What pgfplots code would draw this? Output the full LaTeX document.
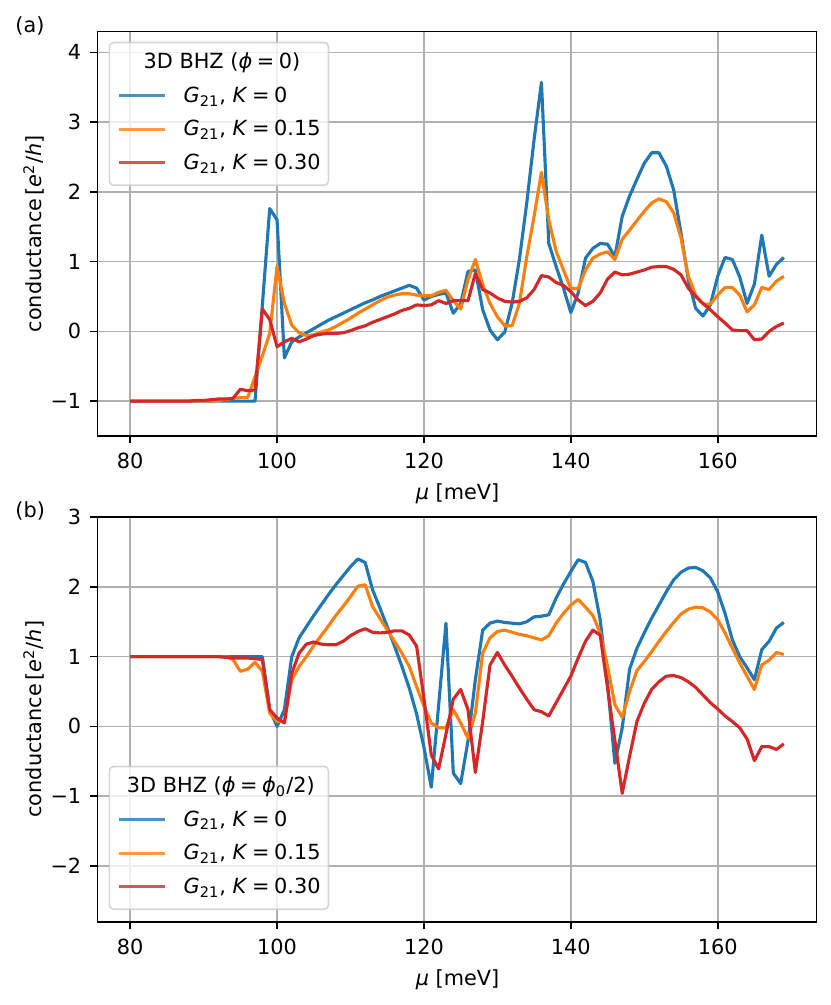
\documentclass[border=0pt]{standalone}
\usepackage{fontspec}
\setmainfont{DejaVu Sans}
\usepackage{pgfplots}
\pgfplotsset{compat=1.18}
\usepackage{pgfplotstable}

\definecolor{tabblue}{HTML}{1F77B4}
\definecolor{taborange}{HTML}{FF7F0E}
\definecolor{tabred}{HTML}{D62728}
\definecolor{gridgray}{HTML}{B0B0B0}

\pgfplotstableread{
mu blue orange red
80 -1 -1 -1
81 -1 -1 -1
82 -1 -1 -1
83 -1 -1 -1
84 -1 -1 -1
85 -1 -1 -1
86 -1 -1 -1
87 -1 -1 -1
88 -1 -1 -1
89 -1 -1 -0.99
90 -1 -1 -0.99
91 -1 -1 -0.98
92 -1 -0.99 -0.97
93 -1 -0.98 -0.97
94 -1 -0.96 -0.96
95 -1 -0.95 -0.83
96 -1 -0.95 -0.85
97 -1 -0.65 -0.84
98 0.38 -0.35 0.32
99 1.76 -0.03 0.17
100 1.60 0.93 -0.22
101 -0.38 0.40 -0.15
102 -0.15 0.09 -0.10
103 -0.08 -0.02 -0.15
104 -0.02 -0.06 -0.11
105 0.04 -0.05 -0.06
106 0.10 -0.01 -0.04
107 0.16 0.02 -0.03
108 0.21 0.07 -0.03
109 0.26 0.13 -0.02
110 0.31 0.19 0.01
111 0.36 0.26 0.05
112 0.41 0.32 0.08
113 0.45 0.38 0.13
114 0.50 0.44 0.17
115 0.54 0.49 0.21
116 0.58 0.52 0.25
117 0.62 0.54 0.30
118 0.66 0.54 0.33
119 0.62 0.52 0.38
120 0.45 0.51 0.37
121 0.50 0.51 0.38
122 0.53 0.56 0.44
123 0.55 0.59 0.40
124 0.26 0.44 0.44
125 0.40 0.32 0.44
126 0.86 0.74 0.44
127 0.88 1.03 0.83
128 0.31 0.67 0.60
129 0.02 0.40 0.55
130 -0.12 0.21 0.48
131 -0.01 0.08 0.43
132 0.40 0.08 0.42
133 1.03 0.40 0.43
134 1.84 1.07 0.48
135 2.75 1.65 0.60
136 3.57 2.28 0.80
137 1.26 1.60 0.78
138 0.93 1.15 0.70
139 0.62 0.88 0.66
140 0.27 0.62 0.57
141 0.55 0.61 0.45
142 1.05 0.88 0.37
143 1.19 1.05 0.43
144 1.26 1.11 0.55
145 1.25 1.14 0.75
146 1.07 1.03 0.85
147 1.65 1.32 0.81
148 1.94 1.45 0.82
149 2.18 1.59 0.85
150 2.41 1.72 0.88
151 2.56 1.84 0.92
152 2.56 1.90 0.93
153 2.37 1.86 0.93
154 2.03 1.70 0.89
155 1.41 1.34 0.81
156 0.74 0.79 0.62
157 0.33 0.52 0.50
158 0.22 0.39 0.40
159 0.38 0.39 0.31
160 0.79 0.52 0.21
161 1.06 0.63 0.12
162 1.03 0.63 0.02
163 0.78 0.52 0.01
164 0.40 0.28 0.01
165 0.68 0.38 -0.12
166 1.38 0.63 -0.11
167 0.79 0.60 0.00
168 0.96 0.72 0.07
169 1.06 0.79 0.12
}\dataA

\pgfplotstableread{
mu blue orange red
80 1 1 1
81 1 1 1
82 1 1 1
83 1 1 1
84 1 1 1
85 1 1 1
86 1 1 1
87 1 1 1
88 1 1 1
89 1 1 1
90 1 1 1
91 1 1 1
92 1 1 1
93 1 1 0.99
94 1 0.96 0.98
95 1 0.79 0.98
96 1 0.82 0.98
97 1 0.92 0.97
98 1.00 0.79 0.96
99 0.24 0.19 0.24
100 0.00 0.07 0.12
101 0.24 0.07 0.05
102 1.00 0.67 0.76
103 1.27 0.86 1.05
104 1.43 1.00 1.18
105 1.59 1.16 1.21
106 1.74 1.30 1.18
107 1.89 1.44 1.17
108 2.03 1.59 1.17
109 2.16 1.72 1.22
110 2.29 1.86 1.30
111 2.40 2.01 1.36
112 2.35 2.03 1.40
113 1.96 1.72 1.35
114 1.70 1.55 1.34
115 1.43 1.38 1.35
116 1.15 1.22 1.37
117 0.86 1.05 1.37
118 0.55 0.86 1.31
119 0.18 0.57 1.15
120 -0.30 0.29 0.40
121 -0.87 0.05 -0.41
122 0.30 -0.02 -0.61
123 1.48 -0.02 -0.11
124 -0.67 0.24 0.39
125 -0.82 0.05 0.53
126 -0.21 -0.17 0.24
127 0.67 0.19 -0.66
128 1.38 1.05 0.07
129 1.48 1.27 0.88
130 1.51 1.36 1.06
131 1.49 1.38 0.88
132 1.48 1.35 0.72
133 1.47 1.32 0.55
134 1.50 1.30 0.39
135 1.57 1.27 0.24
136 1.58 1.24 0.21
137 1.60 1.30 0.15
138 1.84 1.48 0.34
139 2.04 1.62 0.53
140 2.22 1.74 0.72
141 2.39 1.82 0.98
142 2.35 1.71 1.22
143 2.08 1.59 1.38
144 1.53 1.34 1.31
145 0.62 0.86 0.55
146 -0.53 0.31 -0.20
147 -0.02 0.13 -0.96
148 0.82 0.50 -0.43
149 1.12 0.80 0.07
150 1.34 0.93 0.33
151 1.55 1.07 0.53
152 1.74 1.22 0.64
153 1.93 1.36 0.72
154 2.10 1.49 0.73
155 2.21 1.61 0.70
156 2.27 1.68 0.64
157 2.28 1.71 0.56
158 2.23 1.70 0.45
159 2.13 1.64 0.34
160 1.93 1.53 0.25
161 1.62 1.34 0.15
162 1.24 1.12 0.07
163 1.00 0.91 -0.02
164 0.84 0.72 -0.18
165 0.67 0.53 -0.49
166 1.10 0.88 -0.29
167 1.22 0.95 -0.29
168 1.41 1.06 -0.33
169 1.49 1.03 -0.25
}\dataB

\newcommand{\eq}{\hspace{0.22em}=\hspace{0.22em}}
\newcommand{\gk}[1]{\textit{G}\textsubscript{21}, \textit{K}\eq #1}

\pgfplotsset{
  myaxis/.style={
    scale only axis,
    width=345.1pt, height=194.2pt,
    xmin=75.55, xmax=173.45,
    xtick={80,100,120,140,160},
    xticklabels={80,100,120,140,160},
    grid=major,
    major grid style={draw=gridgray, line width=0.8pt},
    axis line style={line width=0.8pt, black},
    tick align=outside,
    major tick length=3.5pt,
    every tick/.style={line width=0.8pt, black},
    xtick pos=lower, ytick pos=lower,
    tick label style={font=\fontsize{10}{12}\selectfont},
    xticklabel style={anchor=north, inner sep=0pt, yshift=-4.4pt},
    yticklabel style={anchor=east, inner sep=0pt, xshift=-4.1pt},
    every axis plot/.append style={line width=1.5pt, line join=round, no markers},
    legend cell align=left,
    legend image code/.code={\draw[#1, line cap=butt] (0pt,0.7pt) -- (22.4pt,0.7pt);},
    legend style={
      draw=black!20, line width=0.8pt, rounded corners=2pt,
      fill=white, fill opacity=0.8, draw opacity=0.8, text opacity=1,
      inner xsep=3.75pt, inner ysep=5pt,
      row sep=5.9pt, column sep=8pt,
      nodes={inner sep=0pt, text height=7.6pt, text depth=2.6pt},
      font=\fontsize{10}{12}\selectfont,
    },
  }
}

\begin{document}
\begin{tikzpicture}
\path[use as bounding box] (0,0) rectangle (398.88pt,-482.4pt);

\begin{axis}[myaxis,
  at={(46.8pt,-209.28pt)}, anchor=south west,
  ymin=-1.5, ymax=4.3,
  ytick={-1,0,1,2,3,4},
  yticklabels={−1,0,1,2,3,4},
  legend style={at={(0.0153,0.9745)}, anchor=north west},
]
\addlegendimage{empty legend}
\addlegendentry{\hspace*{-19.2pt}3D BHZ (\textit{ϕ}\eq 0)}
\addplot[tabblue] table[x=mu, y=blue] {\dataA};
\addlegendentry{\gk{0}}
\addplot[taborange] table[x=mu, y=orange] {\dataA};
\addlegendentry{\gk{0.15}}
\addplot[tabred] table[x=mu, y=red] {\dataA};
\addlegendentry{\gk{0.30}}
\end{axis}

\begin{axis}[myaxis,
  at={(46.8pt,-442.42pt)}, anchor=south west,
  ymin=-2.8, ymax=3,
  ytick={-2,-1,0,1,2,3},
  yticklabels={−2,−1,0,1,2,3},
  legend style={at={(0.0153,0.0289)}, anchor=south west},
]
\addlegendimage{empty legend}
\addlegendentry{\hspace*{-27.2pt}3D BHZ (\textit{ϕ}\eq\textit{ϕ}\textsubscript{0}/2)}
\addplot[tabblue] table[x=mu, y=blue] {\dataB};
\addlegendentry{\gk{0}}
\addplot[taborange] table[x=mu, y=orange] {\dataB};
\addlegendentry{\gk{0.15}}
\addplot[tabred] table[x=mu, y=red] {\dataB};
\addlegendentry{\gk{0.30}}
\end{axis}

\node[anchor=base west, inner sep=0pt] at (7.2pt,-15.5pt) {(a)};
\node[anchor=base west, inner sep=0pt] at (7.2pt,-248.3pt) {(b)};
\node[anchor=base, inner sep=0pt] at (219.6pt,-239.7pt) {\textit{μ} [meV]};
\node[anchor=base, inner sep=0pt] at (219.6pt,-472.8pt) {\textit{μ} [meV]};
\node[rotate=90, anchor=base, inner sep=0pt] at (20pt,-112.3pt) {conductance\,[\textit{e}\textsuperscript{2}/\textit{h}]};
\node[rotate=90, anchor=base, inner sep=0pt] at (20pt,-345.2pt) {conductance\,[\textit{e}\textsuperscript{2}/\textit{h}]};
\end{tikzpicture}
\end{document}
